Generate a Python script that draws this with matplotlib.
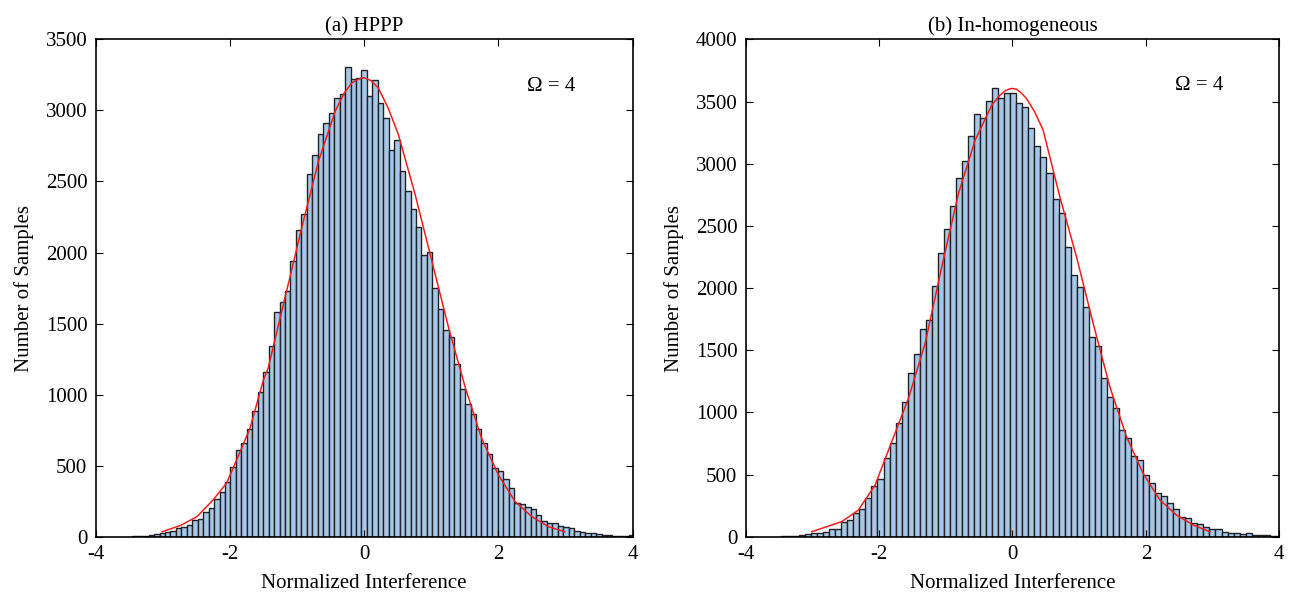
import numpy as np
import matplotlib
matplotlib.use("Agg")
import matplotlib.pyplot as plt

plt.rcParams['font.family'] = ['Liberation Serif', 'DejaVu Serif']
plt.rcParams['axes.unicode_minus'] = False

# (a) HPPP: histogram counts, bins start at -3.455, width 0.0813
hppp_start, hppp_width = -3.455, 0.0813
hppp_counts = [3, 4, 6, 9,
               16, 23, 31, 40, 59, 68, 80, 115, 125, 174,
               204, 263, 315, 388, 489, 608, 658, 759, 883, 1015,
               1160, 1344, 1581, 1651, 1727, 1943, 2156, 2271, 2553, 2685,
               2835, 2910, 2983, 3089, 3117, 3305, 3220, 3225, 3284, 3100,
               3213, 3049, 2948, 2718, 2793, 2572, 2431, 2307, 2178, 1980,
               2004, 1750, 1604, 1454, 1405, 1214, 1038, 935, 862, 759,
               662, 585, 482, 465, 404, 341, 240, 230, 211, 195,
               153, 110, 94, 94, 75, 66, 59, 40, 35, 28,
               23, 19, 12, 9, 8, 8, 8, 12]
hppp_fit_x = [-3.01, -2.74, -2.49, -2.25, -2.05, -1.90, -1.70, -1.50, -1.43, -1.18,
              -0.93, -0.68, -0.43, -0.30, -0.18, -0.06, 0.0, 0.10, 0.21, 0.36,
              0.51, 0.76, 1.01, 1.26, 1.51, 1.75, 2.00, 2.25, 2.50, 2.75, 2.99]
hppp_fit_y = [35, 78, 141, 259, 376, 540, 764, 1104, 1186, 1680,
              2173, 2643, 2995, 3120, 3195, 3225, 3230, 3210, 3159, 3015,
              2831, 2408, 1938, 1468, 1045, 693, 435, 247, 141, 70, 35]

# (b) In-homogeneous: bins start at -3.472, width 0.0905
inh_start, inh_width = -3.472, 0.0905
inh_counts = [4, 6, 8, 10,
              19, 27, 27, 40, 59, 59, 115, 134, 188, 225,
              308, 407, 461, 635, 750, 911, 1080, 1313, 1469, 1670,
              1742, 2018, 2278, 2471, 2659, 2881, 3023, 3221, 3398, 3369,
              3505, 3605, 3532, 3570, 3570, 3489,
              3452, 3288, 3144, 3055, 2927, 2712, 2605, 2326, 2101, 2005,
              1844, 1608, 1533, 1273, 1126, 1032, 858, 791, 649, 616,
              496, 434, 354, 327, 268, 220, 161, 147, 107, 99,
              75, 64, 64, 40, 32, 32, 19, 27, 13, 16,
              10, 8, 8]
inh_fit_x = [-3.01, -2.56, -2.31, -2.06, -1.81, -1.56, -1.31, -1.06, -0.81, -0.56,
             -0.31, -0.20, -0.11, -0.04, 0.0, 0.06, 0.13, 0.21, 0.33, 0.46, 0.71, 0.96,
             1.21, 1.46, 1.71, 1.96, 2.21, 2.46, 2.71, 2.96]
inh_fit_y = [40, 121, 214, 415, 764, 1112, 1554, 2171, 2760, 3189,
             3471, 3545, 3586, 3602, 3605, 3599, 3570, 3524, 3420, 3270, 2734, 2251,
             1715, 1206, 804, 509, 295, 174, 94, 40]

panels = [
    ("(a) HPPP", hppp_start, hppp_width, hppp_counts, hppp_fit_x, hppp_fit_y, 3500, (2.43, 3170)),
    ("(b) In-homogeneous", inh_start, inh_width, inh_counts, inh_fit_x, inh_fit_y, 4000, (2.44, 3630)),
]

fig = plt.figure(figsize=(12.91, 5.98), dpi=100)
boxes = [[0.0741, 0.1025, 0.4159, 0.8317], [0.5776, 0.1025, 0.4133, 0.8317]]

for box, (title, start, width, counts, fx, fy, ymax, txt) in zip(boxes, panels):
    ax = fig.add_axes(box)
    edges = start + width * np.arange(len(counts))
    ax.bar(edges, counts, width=width, align='edge', color='#a7c7e7',
           edgecolor='#1f2328', linewidth=1.0)
    ax.plot(fx, fy, color='#f01e1e', lw=1.1)
    ax.set_xlim(-4, 4)
    ax.set_ylim(0, ymax)
    ax.set_xticks([-4, -2, 0, 2, 4])
    ax.set_yticks(np.arange(0, ymax + 1, 500))
    ax.tick_params(direction='in', top=True, right=True, labelsize=15, length=5, pad=6)
    for s in ax.spines.values():
        s.set_linewidth(1.2)
    ax.set_title(title, fontsize=15, pad=6)
    ax.set_xlabel('Normalized Interference', fontsize=15, labelpad=7)
    ax.set_ylabel('Number of Samples', fontsize=15, labelpad=8)
    ax.text(txt[0], txt[1], '\u03a9 = 4', fontsize=15, va='center')

fig.savefig('out.png', dpi=100)
